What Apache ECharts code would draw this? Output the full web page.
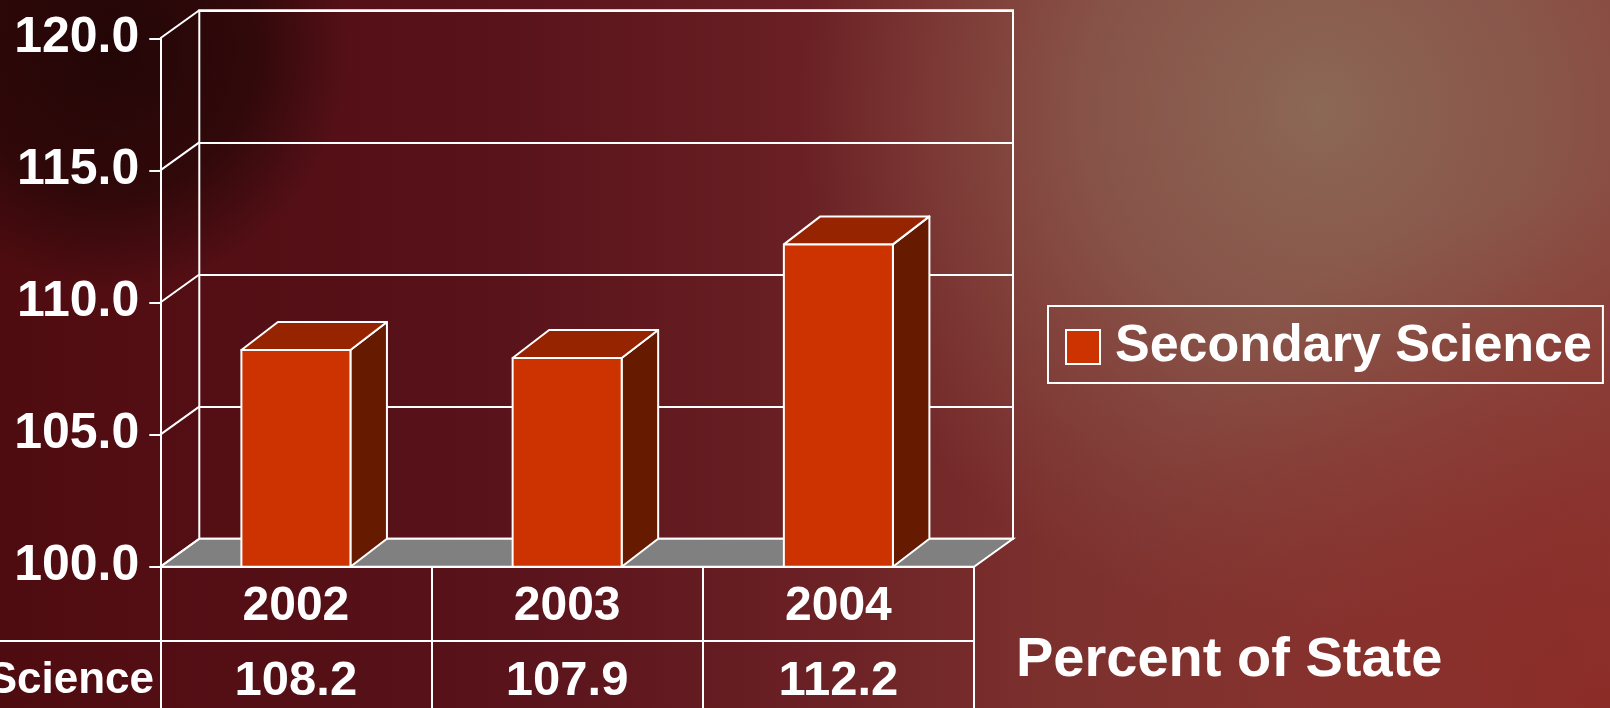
<!DOCTYPE html>
<html>
<head>
<meta charset="utf-8">
<title>Secondary Science - Percent of State</title>
<script src="https://cdn.jsdelivr.net/npm/echarts@6/dist/echarts.min.js"></script>
<style>
  html, body { margin: 0; padding: 0; overflow: hidden; }
  #chart { width: 1610px; height: 708px; }
</style>
</head>
<body>
<div id="chart"></div>
<script>
// data
const categories = ["2002", "2003", "2004"];
const scores = [108.2, 107.9, 112.2];
const yTicks = [100, 105, 110, 115, 120];
const seriesName = "Secondary Science";

const FONT = "'Liberation Sans', Arial, sans-serif";
// 3D offsets (depth of the back wall and of the bars)
const WALL_DX = 39, WALL_DY = 28;
const BAR_DX = 36.5, BAR_DY = 28;

const myChart = echarts.init(document.getElementById("chart"));

const gridFront = { left: 160.3, top: 38.3, right: 1610 - 974, bottom: 708 - 566.7 };
const gridBack = {
  left: gridFront.left + WALL_DX,
  top: gridFront.top - WALL_DY,
  right: gridFront.right - WALL_DX,
  bottom: gridFront.bottom + WALL_DY,
};

function radial(x, y, r, stops) {
  return { type: "radial", x: x, y: y, r: r, global: true, colorStops: stops };
}

const options = {
  animation: false,
  backgroundColor: {
    type: "linear", x: 0, y: 0, x2: 1, y2: 0,
    colorStops: [
      { offset: 0, color: "#4f0c10" },
      { offset: 0.3, color: "#58121a" },
      { offset: 0.5, color: "#6a2024" },
      { offset: 0.65, color: "#7c302e" },
      { offset: 1, color: "#8a3c36" },
    ],
  },
  graphic: [
    {
      type: "rect", z: -10, silent: true,
      shape: { x: 0, y: 0, width: 1610, height: 708 },
      style: { fill: radial(1320, 110, 520, [
        { offset: 0, color: "rgba(140,104,86,1)" },
        { offset: 0.45, color: "rgba(138,94,80,0.75)" },
        { offset: 1, color: "rgba(138,80,70,0)" },
      ]) },
    },
    {
      type: "rect", z: -10, silent: true,
      shape: { x: 0, y: 0, width: 1610, height: 708 },
      style: { fill: radial(1610, 708, 520, [
        { offset: 0, color: "rgba(140,40,36,0.8)" },
        { offset: 1, color: "rgba(140,40,36,0)" },
      ]) },
    },
    {
      type: "rect", z: -10, silent: true,
      shape: { x: 0, y: 0, width: 1610, height: 708 },
      style: { fill: radial(110, 50, 240, [
        { offset: 0, color: "rgba(30,5,5,0.9)" },
        { offset: 0.6, color: "rgba(34,6,6,0.7)" },
        { offset: 1, color: "rgba(34,6,6,0)" },
      ]) },
    },
    // row header of the data table
    {
      type: "line", silent: true,
      shape: { x1: 0, y1: 641, x2: 974, y2: 641 },
      style: { stroke: "#fff", lineWidth: 2 },
    },
    {
      type: "text", silent: true, right: 1610 - 154, top: 659,
      style: { text: seriesName, fill: "#fff", font: "bold 44px " + FONT },
    },
  ],
  title: {
    text: "Percent of State",
    left: 1011, top: 628,
    textStyle: { color: "#fff", fontSize: 56, fontWeight: "bold", fontFamily: FONT },
  },
  legend: {
    data: [seriesName],
    left: 1048, top: 306,
    orient: "horizontal",
    selectedMode: false,
    padding: [15, 11, 10, 17],
    borderColor: "#fff",
    borderWidth: 2,
    icon: "rect",
    itemWidth: 34,
    itemHeight: 34,
    itemStyle: { color: "#CC3300", borderColor: "#fff", borderWidth: 2 },
    textStyle: { color: "#fff", fontSize: 52, fontWeight: "bold", fontFamily: FONT, padding: [0, 0, 0, 10] },
  },
  grid: [
    Object.assign({ outerBoundsMode: "none", containLabel: false }, gridFront),
    Object.assign({
      outerBoundsMode: "none", containLabel: false,
      show: true, borderColor: "#fff", borderWidth: 2, backgroundColor: "transparent",
    }, gridBack),
  ],
  xAxis: [
    {
      type: "category", gridIndex: 0, data: categories,
      axisLine: { show: true, lineStyle: { color: "#fff", width: 2 } },
      axisTick: { show: true, length: 142, lineStyle: { color: "#fff", width: 2 } },
      axisLabel: { color: "#fff", fontSize: 48, fontWeight: "bold", fontFamily: FONT, margin: 16 },
    },
    {
      type: "category", gridIndex: 0, data: categories, position: "bottom", offset: 74.3,
      axisLine: { show: false },
      axisTick: { show: false },
      axisLabel: {
        color: "#fff", fontSize: 49, fontWeight: "bold", fontFamily: FONT, margin: 16,
        formatter: (v, i) => scores[i].toFixed(1),
      },
    },
    { type: "category", gridIndex: 1, data: categories, show: false },
  ],
  yAxis: [
    {
      type: "value", gridIndex: 0, min: 100, max: 120, interval: 5,
      axisLine: { show: true, lineStyle: { color: "#fff", width: 2 } },
      axisTick: { show: true, length: 11, lineStyle: { color: "#fff", width: 2 } },
      splitLine: { show: false },
      axisLabel: {
        color: "#fff", fontSize: 50, fontWeight: "bold", fontFamily: FONT, margin: 21,
        formatter: (v) => v.toFixed(1),
      },
    },
    {
      type: "value", gridIndex: 1, min: 100, max: 120, interval: 5,
      axisLine: { show: false }, axisTick: { show: false }, axisLabel: { show: false },
      splitLine: { show: true, lineStyle: { color: "#fff", width: 2 } },
    },
  ],
  series: [
    {
      // floor + depth lines from the front axis ticks to the back wall
      type: "custom", name: "frame", xAxisIndex: 0, yAxisIndex: 0, z: 2, silent: true,
      encode: { x: 0, y: 1 },
      data: yTicks.map((v) => [0, v]),
      renderItem: function (params, api) {
        const cs = params.coordSys;
        const y = api.coord([0, api.value(1)])[1];
        const children = [];
        if (api.value(1) === yTicks[0]) {
          children.push({
            type: "polygon",
            shape: { points: [[cs.x, y], [cs.x + cs.width, y],
              [cs.x + cs.width + WALL_DX, y - WALL_DY], [cs.x + WALL_DX, y - WALL_DY]] },
            style: { fill: "#808080", stroke: "#fff", lineWidth: 2 },
          });
        }
        children.push({
          type: "line",
          shape: { x1: cs.x, y1: y, x2: cs.x + WALL_DX, y2: y - WALL_DY },
          style: { stroke: "#fff", lineWidth: 2 },
        });
        return { type: "group", children: children };
      },
    },
    {
      type: "custom", name: seriesName, xAxisIndex: 0, yAxisIndex: 0, z: 3,
      itemStyle: { color: "#CC3300" },
      encode: { x: 0, y: 1 },
      data: scores.map((v, i) => [i, v]),
      renderItem: function (params, api) {
        const top = api.coord([api.value(0), api.value(1)]);
        const base = api.coord([api.value(0), yTicks[0]]);
        const bw = api.size([1, 0])[0] * 0.402;
        const x0 = top[0] - bw / 2, x1 = x0 + bw;
        const stroke = { stroke: "#fff", lineWidth: 2, lineJoin: "round" };
        return {
          type: "group",
          children: [
            {
              type: "polygon",
              shape: { points: [[x1, top[1]], [x1 + BAR_DX, top[1] - BAR_DY],
                [x1 + BAR_DX, base[1] - BAR_DY], [x1, base[1]]] },
              style: Object.assign({ fill: "#661A00" }, stroke),
            },
            {
              type: "polygon",
              shape: { points: [[x0, top[1]], [x0 + BAR_DX, top[1] - BAR_DY],
                [x1 + BAR_DX, top[1] - BAR_DY], [x1, top[1]]] },
              style: Object.assign({ fill: "#962400" }, stroke),
            },
            {
              type: "rect",
              shape: { x: x0, y: top[1], width: bw, height: base[1] - top[1] },
              style: Object.assign({ fill: "#CC3300" }, stroke),
            },
          ],
        };
      },
    },
  ],
};

myChart.setOption(options);
</script>
</body>
</html>
